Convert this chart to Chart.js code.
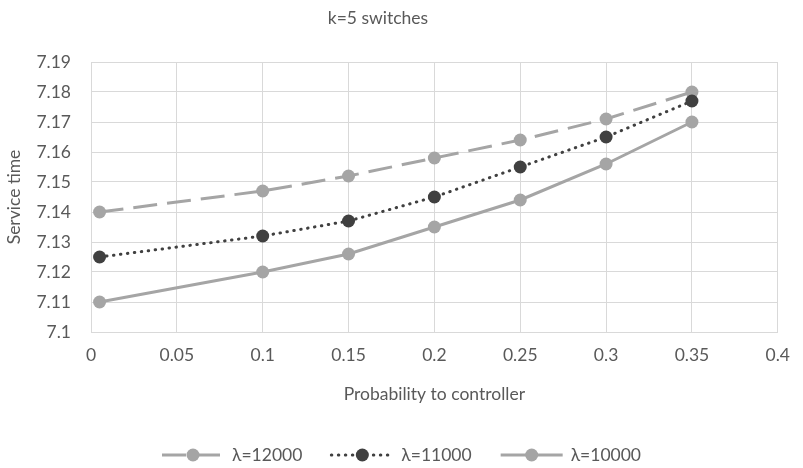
<!DOCTYPE html>
<html>
<head>
<meta charset="utf-8">
<script src="https://cdn.jsdelivr.net/npm/chart.js@4/dist/chart.umd.min.js"></script>
<style>
  html, body { margin: 0; padding: 0; background: #ffffff; }
  #wrap { width: 803px; height: 468px; position: relative; }
</style>
</head>
<body>
<div id="wrap"><canvas id="chart"></canvas></div>
<script>
// Probability of forwarding to the controller (x) and mean service time per arrival rate
const probabilities = [0.005, 0.1, 0.15, 0.2, 0.25, 0.3, 0.35];
const serviceTime12000 = [7.140, 7.147, 7.152, 7.158, 7.164, 7.171, 7.180];
const serviceTime11000 = [7.125, 7.132, 7.137, 7.145, 7.155, 7.165, 7.177];
const serviceTime10000 = [7.110, 7.120, 7.126, 7.135, 7.144, 7.156, 7.170];
const seriesNames = ['λ=12000', 'λ=11000', 'λ=10000'];
const chartTitle = 'k=5 switches';
const xAxisTitle = 'Probability to controller';
const yAxisTitle = 'Service time';

const FONT = 'Lato, "Open Sans", sans-serif';
const TEXT = '#595959';
const LIGHT = '#a5a5a5';
const DARK = '#404040';
const GRID = '#d9d9d9';

const toPoints = ys => probabilities.map((x, i) => ({ x, y: ys[i] }));

function lineSeries(label, values, color, dash, order) {
  return {
    label,
    data: toPoints(values),
    borderColor: color,
    backgroundColor: color,
    borderWidth: 3,
    borderDash: dash,
    borderCapStyle: dash.length && dash[0] < 2 ? 'round' : 'butt',
    pointRadius: 6.5,
    pointHoverRadius: 6.5,
    pointBorderWidth: 0,
    pointBackgroundColor: color,
    tension: 0,
    order
  };
}

// Chart heading, placed slightly left of the canvas centre
const heading = {
  id: 'heading',
  afterDraw(chart) {
    const ctx = chart.ctx;
    ctx.save();
    ctx.font = '17.5px ' + FONT;
    ctx.fillStyle = TEXT;
    ctx.textAlign = 'center';
    ctx.textBaseline = 'middle';
    ctx.fillText(chartTitle, 378, 18);
    ctx.restore();
  }
};

// Legend below the x-axis title: line sample with centred marker, then the label
const bottomLegend = {
  id: 'bottomLegend',
  afterDraw(chart) {
    const ctx = chart.ctx;
    const sets = chart.data.datasets;
    const lineLen = 62, textGap = 8, itemGap = 29, y = 455;
    ctx.save();
    ctx.font = '17.5px ' + FONT;
    const widths = sets.map(d => lineLen + textGap + ctx.measureText(d.label).width);
    const total = widths.reduce((a, b) => a + b, 0) + itemGap * (sets.length - 1);
    let x = (chart.width - total) / 2;
    sets.forEach((d, i) => {
      ctx.strokeStyle = d.borderColor;
      ctx.lineWidth = d.borderWidth;
      ctx.lineCap = d.borderCapStyle;
      ctx.setLineDash(d.borderDash);
      ctx.beginPath();
      ctx.moveTo(x, y);
      ctx.lineTo(x + lineLen, y);
      ctx.stroke();
      ctx.setLineDash([]);
      ctx.fillStyle = d.pointBackgroundColor;
      ctx.beginPath();
      ctx.arc(x + lineLen / 2, y, d.pointRadius, 0, Math.PI * 2);
      ctx.fill();
      ctx.fillStyle = TEXT;
      ctx.textAlign = 'left';
      ctx.textBaseline = 'middle';
      ctx.fillText(d.label, x + lineLen + textGap, y);
      x += widths[i] + itemGap;
    });
    ctx.restore();
  }
};

const fmt = v => String(Number(v.toFixed(3)));

new Chart(document.getElementById('chart'), {
  type: 'line',
  data: {
    datasets: [
      lineSeries(seriesNames[0], serviceTime12000, LIGHT, [24, 10], 3),
      lineSeries(seriesNames[1], serviceTime11000, DARK, [0.5, 6.5], 2),
      lineSeries(seriesNames[2], serviceTime10000, LIGHT, [], 1)
    ]
  },
  options: {
    responsive: true,
    maintainAspectRatio: false,
    animation: false,
    events: [],
    layout: { padding: { left: 0, right: 16, top: 62, bottom: 0 } },
    plugins: {
      legend: { display: false },
      tooltip: { enabled: false },
      title: { display: false }
    },
    scales: {
      x: {
        type: 'linear',
        min: 0,
        max: 0.4,
        afterFit: s => { s.height = 136; },
        ticks: {
          stepSize: 0.05,
          padding: 13,
          color: TEXT,
          font: { family: FONT, size: 17.5 },
          callback: v => fmt(v),
          maxRotation: 0
        },
        grid: { color: GRID, lineWidth: 1, drawTicks: false },
        border: { color: GRID },
        title: {
          display: true,
          text: xAxisTitle,
          color: TEXT,
          font: { family: FONT, size: 17.5 },
          padding: { top: 0, bottom: 63 }
        }
      },
      y: {
        type: 'linear',
        min: 7.1,
        max: 7.19,
        afterFit: s => { s.width = 91; },
        ticks: {
          stepSize: 0.01,
          padding: 20,
          color: TEXT,
          font: { family: FONT, size: 17.5 },
          callback: v => fmt(v)
        },
        grid: { color: GRID, lineWidth: 1, drawTicks: false },
        border: { color: GRID },
        title: {
          display: true,
          text: yAxisTitle,
          color: TEXT,
          font: { family: FONT, size: 17.5 },
          padding: { top: 4, bottom: 0 }
        }
      }
    }
  },
  plugins: [heading, bottomLegend]
});
</script>
</body>
</html>
